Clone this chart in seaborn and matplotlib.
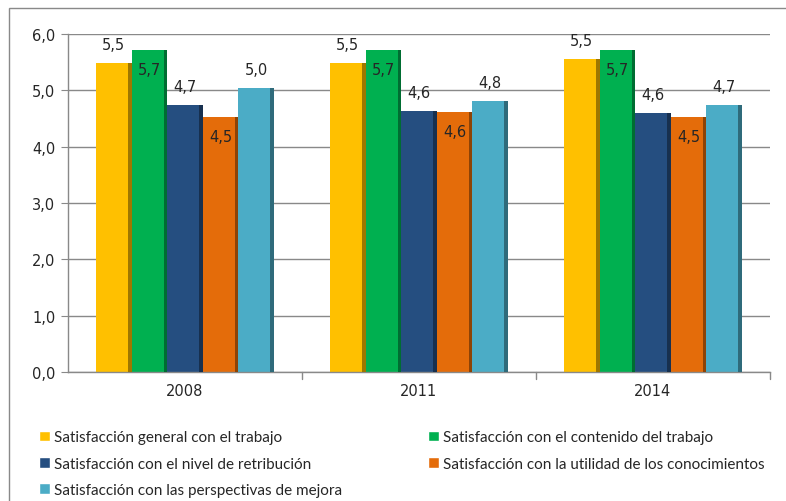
import pandas as pd
import matplotlib.pyplot as plt
import matplotlib.colors as mcolors
from matplotlib.patches import Rectangle
import seaborn as sns

# Data
years = ['2008', '2011', '2014']
series = [
    'Satisfacción general con el trabajo',
    'Satisfacción con el contenido del trabajo',
    'Satisfacción con el nivel de retribución',
    'Satisfacción con la utilidad de los conocimientos',
    'Satisfacción con las perspectivas de mejora',
]
general = [5.49, 5.49, 5.55]
contenido = [5.72, 5.72, 5.72]
retribucion = [4.74, 4.64, 4.60]
utilidad = [4.52, 4.61, 4.52]
mejora = [5.04, 4.81, 4.74]
colors = ['#FFC000', '#00B050', '#254E80', '#E46C0A', '#4BACC6']

rows = []
for name, vals in zip(series, [general, contenido, retribucion, utilidad, mejora]):
    for y, v in zip(years, vals):
        rows.append({'year': y, 'serie': name, 'value': v})
df = pd.DataFrame(rows)

sns.set_style('white')
plt.rcParams['font.family'] = ['DejaVu Sans']

fig = plt.figure(figsize=(7.86, 5.02), dpi=100)
ax = fig.add_axes([0.0865, 0.257, 0.893, 0.673])

sns.barplot(data=df, x='year', y='value', hue='serie', palette=colors,
            saturation=1, width=0.76, legend=False, ax=ax, errorbar=None,
            linewidth=0)

# darker right edge strip to mimic the 3D look
for cont, c in zip(ax.containers, colors):
    dark = tuple(v * 0.62 for v in mcolors.to_rgb(c))
    for bar in cont:
        w = bar.get_width()
        ax.add_patch(Rectangle((bar.get_x() + w * 0.9, 0), w * 0.1, bar.get_height(),
                               facecolor=dark, edgecolor='none', zorder=3))

# value labels: alternating above / inside
for i, cont in enumerate(ax.containers):
    for bar in cont:
        h = bar.get_height()
        txt = f'{h:.1f}'.replace('.', ',')
        xc = bar.get_x() + bar.get_width() / 2
        off = 0.33 if i % 2 == 0 else -0.34
        ax.text(xc, h + off, txt, ha='center', va='center', fontsize=10.5, zorder=5)

ax.set_ylim(0, 6)
ax.set_xlim(-0.5, 2.5)
ax.set_yticks([0, 1, 2, 3, 4, 5, 6])
ax.set_yticklabels([f'{v:.1f}'.replace('.', ',') for v in range(7)], fontsize=10.5)
ax.tick_params(axis='x', labelsize=10.5, length=0, pad=8)
ax.tick_params(axis='y', length=5, color='#898989', left=True, pad=4)
ax.set_xlabel('')
ax.set_ylabel('')
ax.yaxis.grid(True, color='#898989', linewidth=1)
ax.set_axisbelow(True)
for s in ['top', 'right']:
    ax.spines[s].set_visible(False)
for s in ['left', 'bottom']:
    ax.spines[s].set_color('#898989')
    ax.spines[s].set_linewidth(1)

# category separators below the x axis
for xs in [0.5, 1.5, 2.5]:
    ax.plot([xs, xs], [0, -0.12], color='#898989', lw=1, clip_on=False)

# legend filled row by row like the reference
order = [0, 2, 4, 1, 3]
handles = [Rectangle((0, 0), 1, 1, facecolor=colors[k]) for k in order]
labels = [series[k] for k in order]
leg = fig.legend(handles, labels, loc='upper left', bbox_to_anchor=(0.032, 0.168),
                 ncol=2, frameon=False, handlelength=0.7, handleheight=0.7,
                 handletextpad=0.3, labelspacing=0.8, columnspacing=5.6,
                 prop={'family': ['Lato', 'DejaVu Sans'], 'size': 11})

fig.add_artist(Rectangle((0.011, -0.05), 1.1, 1.032, transform=fig.transFigure,
                         fill=False, edgecolor='#898989', lw=1))

fig.savefig('out.png', dpi=100)
